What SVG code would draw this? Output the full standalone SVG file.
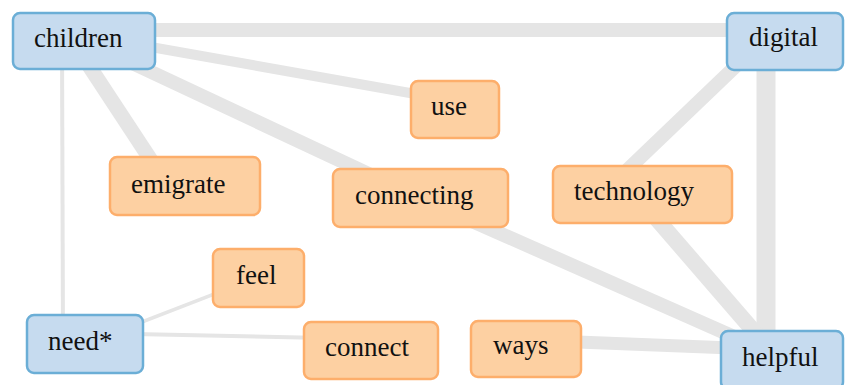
<svg xmlns="http://www.w3.org/2000/svg" width="845" height="385" viewBox="0 0 845 385">
<style>
.e{stroke:#e5e5e5;fill:none;stroke-linecap:butt}
.b rect{fill:#c6dbef;stroke:#6baed6;stroke-width:2.5}
.o rect{fill:#fdd0a2;stroke:#fdae6b;stroke-width:2.5}
</style>
<rect width="845" height="385" fill="#fff"/>
<g id="connectors">
<line class="e" x1="83" y1="30" x2="785" y2="30" stroke-width="14"/>
<line class="e" x1="83" y1="35" x2="455" y2="101" stroke-width="10"/>
<line class="e" x1="72" y1="40" x2="168" y2="186" stroke-width="15"/>
<line class="e" x1="83" y1="40" x2="420" y2="198" stroke-width="14"/>
<line class="e" x1="420" y1="198" x2="782" y2="358" stroke-width="14"/>
<line class="e" x1="62" y1="40" x2="63" y2="344" stroke-width="4"/>
<line class="e" x1="85" y1="344" x2="258" y2="277" stroke-width="3.5"/>
<line class="e" x1="85" y1="333" x2="370" y2="339" stroke-width="4"/>
<line class="e" x1="598" y1="198" x2="763" y2="40" stroke-width="14"/>
<line class="e" x1="766" y1="41" x2="766" y2="358" stroke-width="19"/>
<line class="e" x1="636" y1="195" x2="777" y2="358" stroke-width="16"/>
<line class="e" x1="526" y1="340" x2="782" y2="350" stroke-width="13"/>
</g>
<g id="nodes" font-family="Liberation Serif, DejaVu Serif, serif" font-size="27" fill="#111">
<g id="children" class="b"><rect x="13" y="13" width="142" height="56" rx="7"/><text x="34" y="47">children</text></g>
<g id="digital" class="b"><rect x="727" y="13" width="116" height="57" rx="7"/><text x="749" y="46">digital</text></g>
<g id="use" class="o"><rect x="411" y="81" width="88" height="57" rx="7"/><text x="431" y="115">use</text></g>
<g id="emigrate" class="o"><rect x="110" y="157" width="150" height="58" rx="7"/><text x="131" y="193">emigrate</text></g>
<g id="connecting" class="o"><rect x="333" y="169" width="175" height="58" rx="7"/><text x="355" y="204">connecting</text></g>
<g id="technology" class="o"><rect x="553" y="166" width="179" height="57" rx="7"/><text x="574" y="200">technology</text></g>
<g id="feel" class="o"><rect x="213" y="249" width="91" height="58" rx="7"/><text x="236" y="284">feel</text></g>
<g id="need" class="b"><rect x="27" y="315" width="116" height="58" rx="7"/><text x="48" y="350">need*</text></g>
<g id="connect" class="o"><rect x="304" y="322" width="134" height="57" rx="7"/><text x="325" y="356">connect</text></g>
<g id="ways" class="o"><rect x="471" y="321" width="110" height="56" rx="7"/><text x="493" y="354">ways</text></g>
<g id="helpful" class="b"><rect x="721" y="331" width="122" height="58" rx="7"/><text x="742" y="366">helpful</text></g>
</g>
</svg>
